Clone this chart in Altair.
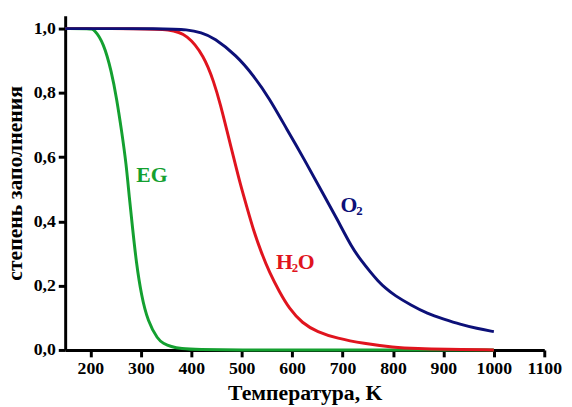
import altair as alt
import pandas as pd

# EG (ethylene glycol)
eg_T = [150, 200, 207, 226, 242, 252, 262, 271, 277, 284, 291, 301, 314, 334, 344, 360, 380, 410, 500, 600, 700, 800, 900, 1000]
eg_v = [1.0, 1.0, 0.998, 0.957, 0.865, 0.783, 0.681, 0.579, 0.476, 0.374, 0.272, 0.17, 0.088, 0.032, 0.021, 0.01, 0.004, 0.001, 0, 0, 0, 0, 0, 0]

# H2O
h2o_T = [150, 300, 358, 392, 425, 445, 458, 471, 484, 497, 510, 523, 539, 555, 575, 594, 620, 650, 689, 742, 800, 850, 900, 1000]
h2o_v = [1.0, 1.0, 0.998, 0.982, 0.916, 0.834, 0.763, 0.681, 0.599, 0.517, 0.446, 0.374, 0.303, 0.241, 0.18, 0.129, 0.083, 0.056, 0.036, 0.02, 0.008, 0.004, 0.002, 0.0]

# O2
o2_T = [150, 350, 392, 420, 445, 490, 523, 555, 588, 627, 660, 690, 718, 738, 755, 770, 786, 803, 836, 868, 901, 933, 966, 1000]
o2_v = [1.0, 1.0, 0.997, 0.988, 0.972, 0.916, 0.855, 0.783, 0.691, 0.585, 0.49, 0.405, 0.32, 0.276, 0.243, 0.215, 0.191, 0.17, 0.139, 0.113, 0.096, 0.08, 0.067, 0.057]

x_ticks = [200, 300, 400, 500, 600, 700, 800, 900, 1000, 1100]
y_ticks = [0.0, 0.2, 0.4, 0.6, 0.8, 1.0]

colors = {"EG": "#14a030", "H2O": "#e0141e", "O2": "#0c1078"}
order = {"EG": 0, "H2O": 1, "O2": 2}

rows = []
for name, Ts, vs in [("EG", eg_T, eg_v), ("H2O", h2o_T, h2o_v), ("O2", o2_T, o2_v)]:
    for t, v in zip(Ts, vs):
        rows.append({"series": name, "T": t, "v": v, "o": order[name]})
df = pd.DataFrame(rows)

FONT = "Liberation Serif"

xscale = alt.Scale(domain=[150, 1100], nice=False, zero=False)
yscale = alt.Scale(domain=[0, 1.04], nice=False)
cscale = alt.Scale(domain=list(colors.keys()), range=list(colors.values()))

lines = alt.Chart(df).mark_line(strokeWidth=3, interpolate="basis").encode(
    x=alt.X("T:Q", scale=xscale,
            axis=alt.Axis(values=x_ticks, title="Температура, K", labelOverlap=False,
                          labelFlush=False, format="d")),
    y=alt.Y("v:Q", scale=yscale,
            axis=alt.Axis(values=y_ticks, title="степень заполнения",
                          labelExpr="replace(format(datum.value, '.1f'), '.', ',')")),
    color=alt.Color("series:N", scale=cscale, legend=None),
    detail="series:N",
    order="o:Q",
)

# annotation labels: main text and subscripts
lab_main = pd.DataFrame([
    {"T": 291, "v": 0.522, "t": "EG", "series": "EG"},
    {"T": 568, "v": 0.2515, "t": "H", "series": "H2O"},
    {"T": 696, "v": 0.430, "t": "O", "series": "O2"},
])
lab_o_after = pd.DataFrame([{"T": 568, "v": 0.2515, "t": "O", "series": "H2O"}])
lab_sub = pd.DataFrame([
    {"T": 568, "v": 0.2515, "t": "2", "series": "H2O"},
    {"T": 696, "v": 0.430, "t": "2", "series": "O2"},
])

def text_layer(data, size, dx=0, dy=0):
    return alt.Chart(data).mark_text(font=FONT, fontWeight="bold", fontSize=size, align="left",
                                     baseline="alphabetic", dx=dx, dy=dy).encode(
        x=alt.X("T:Q", scale=xscale),
        y=alt.Y("v:Q", scale=yscale),
        text="t:N",
        color=alt.Color("series:N", scale=cscale, legend=None),
    )

t1 = text_layer(lab_main, 22)
t2 = text_layer(lab_sub, 13, dx=16, dy=3)
t3 = text_layer(lab_o_after, 22, dx=22)

chart = alt.layer(lines, t1, t2, t3).properties(
    width=486, height=339,
    autosize=alt.AutoSizeParams(type="none"),
    padding={"left": 58, "top": 5, "right": 20, "bottom": 55},
    background="white",
).configure_view(stroke=None).configure_axis(
    grid=False,
    domainColor="black", domainWidth=3,
    tickColor="black", tickWidth=3, tickSize=7,
    labelFont=FONT, labelFontWeight="bold", labelFontSize=18, labelColor="black",
    labelPadding=3,
    titleFont=FONT, titleFontWeight="bold", titleFontSize=22, titleColor="black",
).configure_axisY(titlePadding=7).configure_axisX(titlePadding=5)

chart.save("out.html", embed_options={"renderer": "svg", "actions": False})
